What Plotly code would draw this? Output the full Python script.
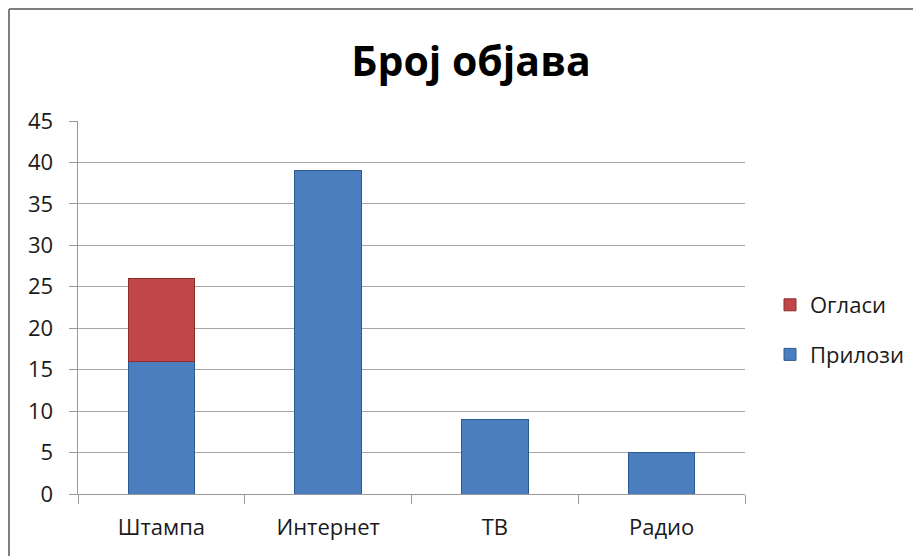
import plotly.graph_objects as go

categories = ["Штампа", "Интернет", "ТВ", "Радио"]
prilozi = [16, 39, 9, 5]
oglasi = [10, 0, 0, 0]
y_ticks = [0, 5, 10, 15, 20, 25, 30, 35, 40, 45]
title_text = "Број објава"

OFF = 8  # page body margin
W, H = 921 - OFF, 556 - OFF
# plot area in screen pixels
X0, X1, Y0, Y1 = 78, 745, 121, 494
L, R, T, B = X0 - OFF, W - (X1 - OFF), Y0 - OFF, H - (Y1 - OFF)
pw, ph = W - L - R, H - T - B


def px_x(x):
    return (x - OFF - L) / pw


def px_y(y):
    return (H - B - (y - OFF)) / ph


font = "'Open Sans', 'Noto Sans', sans-serif"
txt = "#1a1a1a"

fig = go.Figure()
fig.add_trace(go.Bar(
    x=categories, y=prilozi, name="Прилози", legendgroup="a", legendrank=2,
    marker=dict(color="#4A7EBF", line=dict(color="#2E5B8F", width=1)),
    width=0.4,
))
fig.add_trace(go.Bar(
    x=categories, y=[v if v else None for v in oglasi], name="Огласи",
    legendgroup="b", legendrank=1,
    marker=dict(color="#C0464A", line=dict(color="#8E2D2B", width=1)),
    width=0.4,
))

fig.update_layout(
    width=W, height=H,
    margin=dict(l=L, r=R, t=T, b=B, autoexpand=False),
    barmode="stack",
    paper_bgcolor="white", plot_bgcolor="white",
    font=dict(family=font, size=22, color=txt),
    title=dict(text="<b>" + title_text + "</b>", x=(471 - OFF) / W,
               xanchor="center", y=1 - (62 - OFF) / H, yanchor="middle",
               font=dict(family=font, size=41, color="black")),
    legend=dict(x=px_x(770), xanchor="left", y=px_y(330), yanchor="middle",
                traceorder="grouped", font=dict(size=22),
                itemwidth=30, tracegroupgap=18, bgcolor="rgba(0,0,0,0)"),
    showlegend=True,
    shapes=[
        dict(type="line", xref="paper", yref="paper",
             x0=px_x(9), x1=px_x(930), y0=px_y(9), y1=px_y(9),
             line=dict(color="#7F7F7F", width=2)),
        dict(type="line", xref="paper", yref="paper",
             x0=px_x(9), x1=px_x(9), y0=px_y(9), y1=px_y(570),
             line=dict(color="#7F7F7F", width=2)),
    ],
)
fig.update_xaxes(
    showline=True, linecolor="#9A9A9A", linewidth=1,
    ticks="outside", tickson="boundaries", ticklen=9, tickcolor="#9A9A9A",
    ticklabelstandoff=14,
    showgrid=False, tickfont=dict(size=22, color=txt),
)
fig.update_yaxes(
    range=[0, 45], tickvals=y_ticks, ticktext=[str(v) + "  " for v in y_ticks],
    showline=True, linecolor="#9A9A9A", linewidth=1,
    ticks="outside", ticklen=8, tickcolor="#9A9A9A",
    showgrid=True, gridcolor="#A6A6A6", gridwidth=1,
    tickfont=dict(size=22, color=txt), zeroline=False,
)

fig.write_html("out.html")
